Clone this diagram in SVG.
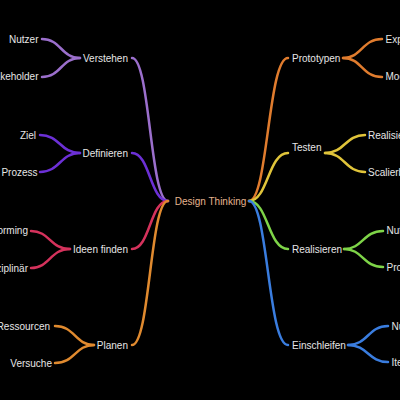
<svg xmlns="http://www.w3.org/2000/svg" width="400" height="400" viewBox="0 0 400 400">
<style>
text{font-family:"Liberation Sans",Arial,sans-serif;font-size:10px;fill:#e6e6e6}
.l{text-anchor:end}
.c{text-anchor:middle;fill:#e6b48e}
path{fill:none;stroke-width:2.5;stroke-linecap:round}
.p1{stroke:#9b6fcc}.p2{stroke:#6c30d6}.p3{stroke:#d5325c}.p4{stroke:#e08a2f}
.p5{stroke:#e07c2e}.p6{stroke:#e0c43a}.p7{stroke:#7ed448}.p8{stroke:#3a7ddf}
</style>
<rect width="400" height="400" fill="#000"/>
<g id="connectors">
<path class="p1" d="M168,201 C150,201 150,58 132,58"/>
<path class="p2" d="M168,201 C150,201 150,153 132,153"/>
<path class="p3" d="M168,201 C150,201 150,249 132,249"/>
<path class="p4" d="M168,201 C150,201 150,345 132,345"/>
<path class="p5" d="M249,201 C268,201 268,58 288,58"/>
<path class="p6" d="M249,201 C268,201 268,153 288,153"/>
<path class="p7" d="M249,201 C268,201 268,249 288,249"/>
<path class="p8" d="M249,201 C268,201 268,345 288,345"/>
<path class="p1" d="M80,58 C61,58 61,39 42,39"/>
<path class="p1" d="M80,58 C61,58 61,77 42,77"/>
<path class="p2" d="M80,153 C60,153 60,135 40,135"/>
<path class="p2" d="M80,153 C60,153 60,172 40,172"/>
<path class="p3" d="M70,249 C50,249 50,231 31,231"/>
<path class="p3" d="M70,249 C50,249 50,268 31,268"/>
<path class="p4" d="M94,345 C75,345 75,326 55,326"/>
<path class="p4" d="M94,345 C75,345 75,363 55,363"/>
<path class="p5" d="M343,58 C362,58 362,39 382,39"/>
<path class="p5" d="M343,58 C362,58 362,77 382,77"/>
<path class="p6" d="M325,153 C345,153 345,135 365,135"/>
<path class="p6" d="M325,153 C345,153 345,172 365,172"/>
<path class="p7" d="M344,249 C363,249 363,231 383,231"/>
<path class="p7" d="M344,249 C363,249 363,267 383,267"/>
<path class="p8" d="M348,345 C368,345 368,326 388,326"/>
<path class="p8" d="M348,345 C368,345 368,362 388,362"/>
</g>
<g id="root"><text class="c" x="210.5" y="205">Design Thinking</text></g>
<g id="verstehen"><text class="l" x="128" y="61.5">Verstehen</text></g>
<g id="definieren"><text class="l" x="128" y="156.5">Definieren</text></g>
<g id="ideen"><text class="l" x="128" y="252.5">Ideen finden</text></g>
<g id="planen"><text class="l" x="128" y="348.5">Planen</text></g>
<g id="prototypen"><text x="292" y="61.5">Prototypen</text></g>
<g id="testen"><text x="292" y="150.5">Testen</text></g>
<g id="realisieren"><text x="292" y="252.5">Realisieren</text></g>
<g id="einschleifen"><text x="292" y="348.5">Einschleifen</text></g>
<g id="nutzer"><text class="l" x="38.5" y="42.5">Nutzer</text></g>
<g id="stakeholder"><text class="l" x="38.5" y="80">Stakeholder</text></g>
<g id="ziel"><text class="l" x="36" y="138.5">Ziel</text></g>
<g id="prozess"><text class="l" x="37.5" y="175.5">Prozess</text></g>
<g id="brainstorming"><text class="l" x="28" y="234">Brainstorming</text></g>
<g id="interdisziplinaer"><text class="l" x="28" y="271.5">Interdisziplinär</text></g>
<g id="ressourcen"><text class="l" x="50" y="329.5">Ressourcen</text></g>
<g id="versuche"><text class="l" x="52" y="366.5">Versuche</text></g>
<g id="explorieren"><text x="385.5" y="42.5">Explorieren</text></g>
<g id="modellieren"><text x="385.5" y="80">Modellieren</text></g>
<g id="realisieren2"><text x="368" y="138.5">Realisieren</text></g>
<g id="skalierbarkeit"><text x="368" y="175.5">Scalierbarkeit</text></g>
<g id="nutzen"><text x="386.5" y="234">Nutzen</text></g>
<g id="produkt"><text x="386.5" y="270.5">Produkt</text></g>
<g id="nutzer2"><text x="391.5" y="329.5">Nutzer</text></g>
<g id="iterieren"><text x="391.5" y="365.5">Iterieren</text></g>
</svg>
